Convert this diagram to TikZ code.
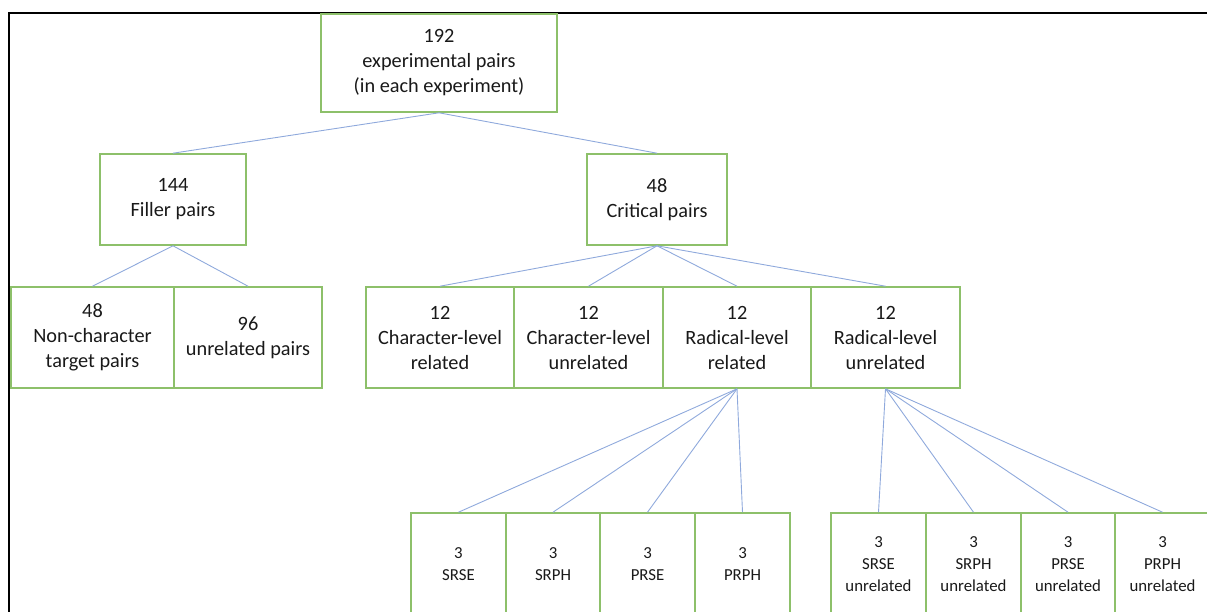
\documentclass[tikz,border=0pt]{standalone}
\usepackage{fontspec}
\setmainfont{Carlito}
\definecolor{boxgreen}{HTML}{8DC06A}
\definecolor{linkblue}{HTML}{8FA9DC}
\begin{document}
\begin{tikzpicture}[x=1pt,y=-1pt,
  box/.style={draw=boxgreen, line width=1.6pt, align=center, inner sep=0pt,
    font=\fontsize{20.3}{25}\selectfont, text=black!90},
  leaf/.style={box, minimum width=95pt, minimum height=102pt,
    font=\fontsize{16.8}{22}\selectfont},
  mid/.style={box, minimum height=101pt},
  link/.style={draw=linkblue, line width=0.9pt}]
\useasboundingbox (0,0) rectangle (1207,611);
\clip (0,0) rectangle (1207,611);

% outer frame (left and top edges)
\draw[line width=2.2pt] (9,615) -- (9,13) -- (1210,13);

% top levels
\node[box, minimum width=236pt, minimum height=98pt] (root) at (439,63)
  {192\\experimental pairs\\(in each experiment)};
\node[box, minimum width=146pt, minimum height=91pt] (filler) at (173,199.5)
  {144\\Filler pairs};
\node[box, minimum width=140pt, minimum height=91pt] (critical) at (657,199.5)
  {48\\Critical pairs};

% second level
\node[mid, minimum width=163pt] (nonchar) at (92.5,337.5)
  {48\\Non-character\\target pairs};
\node[mid, minimum width=148pt] (unrel) at (248,337.5)
  {96\\unrelated pairs};
\node[mid, minimum width=148pt] (clr) at (440,337.5)
  {12\\Character-level\\related};
\node[mid, minimum width=149pt] (clu) at (588.5,337.5)
  {12\\Character-level\\unrelated};
\node[mid, minimum width=148pt] (rlr) at (737,337.5)
  {12\\Radical-level\\related};
\node[mid, minimum width=149pt] (rlu) at (885.5,337.5)
  {12\\Radical-level\\unrelated};

% third level
\node[leaf] (srse) at (458.5,564) {3\\SRSE};
\node[leaf, minimum width=94pt] (srph) at (553,564) {3\\SRPH};
\node[leaf] (prse) at (647.5,564) {3\\PRSE};
\node[leaf] (prph) at (742.5,564) {3\\PRPH};

\node[leaf] (srseu) at (878.5,564) {3\\SRSE\\unrelated};
\node[leaf] (srphu) at (973.5,564) {3\\SRPH\\unrelated};
\node[leaf, minimum width=94pt] (prseu) at (1068,564) {3\\PRSE\\unrelated};
\node[leaf] (prphu) at (1162.5,564) {3\\PRPH\\unrelated};

% connectors
\draw[link] (root.south) -- (filler.north);
\draw[link] (root.south) -- (critical.north);
\draw[link] (filler.south) -- (nonchar.north);
\draw[link] (filler.south) -- (unrel.north);
\foreach \t in {clr,clu,rlr,rlu}
  \draw[link] (critical.south) -- (\t.north);
\foreach \t in {srse,srph,prse,prph}
  \draw[link] (rlr.south) -- (\t.north);
\foreach \t in {srseu,srphu,prseu,prphu}
  \draw[link] (rlu.south) -- (\t.north);
\end{tikzpicture}
\end{document}
